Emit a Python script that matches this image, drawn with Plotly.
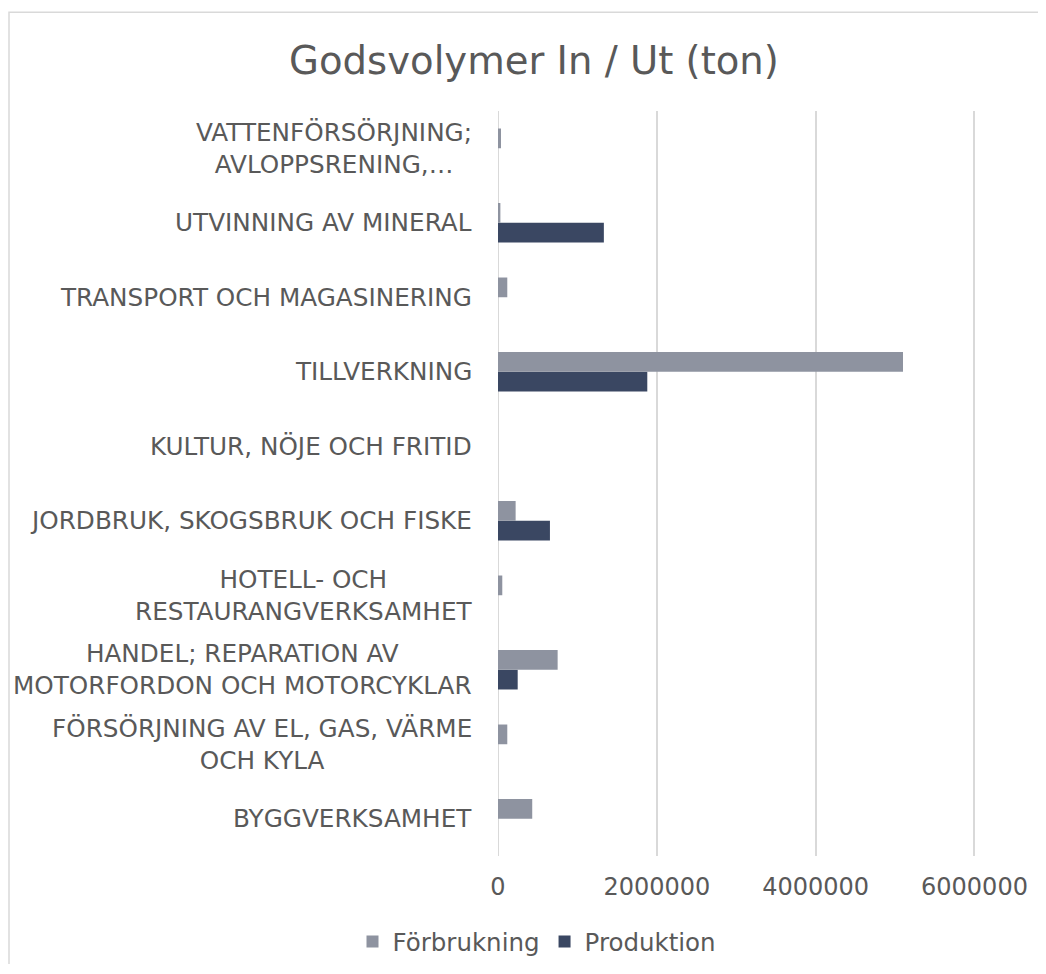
import plotly.graph_objects as go

categories = [
    "BYGGVERKSAMHET",
    "FÖRSÖRJNING AV EL, GAS, VÄRME OCH KYLA",
    "HANDEL; REPARATION AV MOTORFORDON OCH MOTORCYKLAR",
    "HOTELL- OCH RESTAURANGVERKSAMHET",
    "JORDBRUK, SKOGSBRUK OCH FISKE",
    "KULTUR, NÖJE OCH FRITID",
    "TILLVERKNING",
    "TRANSPORT OCH MAGASINERING",
    "UTVINNING AV MINERAL",
    "VATTENFÖRSÖRJNING; AVLOPPSRENING",
]
labels = [
    "BYGGVERKSAMHET",
    "FÖRSÖRJNING AV EL, GAS, VÄRME<br>OCH KYLA",
    "HANDEL; REPARATION AV<br>MOTORFORDON OCH MOTORCYKLAR",
    "HOTELL- OCH<br>RESTAURANGVERKSAMHET",
    "JORDBRUK, SKOGSBRUK OCH FISKE",
    "KULTUR, NÖJE OCH FRITID",
    "TILLVERKNING",
    "TRANSPORT OCH MAGASINERING",
    "UTVINNING AV MINERAL",
    "VATTENFÖRSÖRJNING;<br>AVLOPPSRENING,…",
]
forbrukning = [431000, 117000, 751000, 54000, 222000, 0, 5100000, 117000, 30000, 38000]
produktion = [0, 0, 248000, 0, 654000, 0, 1880000, 0, 1333000, 0]
tick_vals = [0, 2000000, 4000000, 6000000]
tick_text = ["0", "2000000", "4000000", "6000000"]

FONT = "DejaVu Sans"
TXT = "#595959"
GRID = "#D9D9D9"

W, H = 1030, 956
ML, MT = 490, 103
PW = 540
PB = 849  # plot bottom in figure px
PH = PB - MT

fig = go.Figure()
fig.add_trace(go.Bar(
    y=categories, x=produktion, orientation="h", name="Produktion",
    marker=dict(color="#3A4762", line=dict(width=0)),
    legendrank=2,
))
fig.add_trace(go.Bar(
    y=categories, x=forbrukning, orientation="h", name="Förbrukning",
    marker=dict(color="#8E93A0", line=dict(width=0)),
    legendrank=1,
))

for cat, lab in zip(categories, labels):
    fig.add_annotation(
        x=0, xref="paper", xanchor="right", xshift=-24,
        y=cat, yref="y", yanchor="middle",
        text=lab, showarrow=False, align="center",
        font=dict(family=FONT, size=24.7, color=TXT),
    )

fig.update_layout(
    width=W, height=H,
    margin=dict(l=ML, r=W - ML - PW, t=MT, b=H - PB),
    paper_bgcolor="white", plot_bgcolor="white",
    barmode="group", bargap=0.47, bargroupgap=0,
    title=dict(text="Godsvolymer In / Ut (ton)", x=526 / W, xanchor="center",
               y=1 - 52 / H, yanchor="middle",
               font=dict(family=FONT, size=38.6, color=TXT)),
    font=dict(family=FONT, size=24, color=TXT),
    showlegend=True,
    legend=dict(orientation="h", x=(529 - ML) / PW, xanchor="center",
                y=(PB - 935) / PH, yanchor="middle",
                font=dict(family=FONT, size=24.5, color=TXT), itemwidth=30,
                bgcolor="rgba(0,0,0,0)"),
    xaxis=dict(range=[0, 6800000], tickvals=tick_vals, ticktext=tick_text,
               showgrid=True, gridcolor=GRID, gridwidth=2,
               zeroline=False, showline=False, ticks="", ticklabelstandoff=14,
               tickfont=dict(family=FONT, size=24, color=TXT), fixedrange=True),
    yaxis=dict(categoryorder="array", categoryarray=categories,
               showticklabels=False, showgrid=False, zeroline=False, showline=False,
               ticks="", fixedrange=True),
    shapes=[
        dict(type="rect", xref="paper", yref="paper",
             x0=(1 - ML) / PW, x1=1.3, y0=-0.3, y1=(PB - 4) / PH,
             line=dict(color=GRID, width=1.5), fillcolor="rgba(0,0,0,0)",
             layer="below"),
        dict(type="line", xref="x", yref="paper", x0=0, x1=0, y0=0, y1=1,
             line=dict(color=GRID, width=2), layer="below"),
    ],
)

fig.write_html("out.html")
